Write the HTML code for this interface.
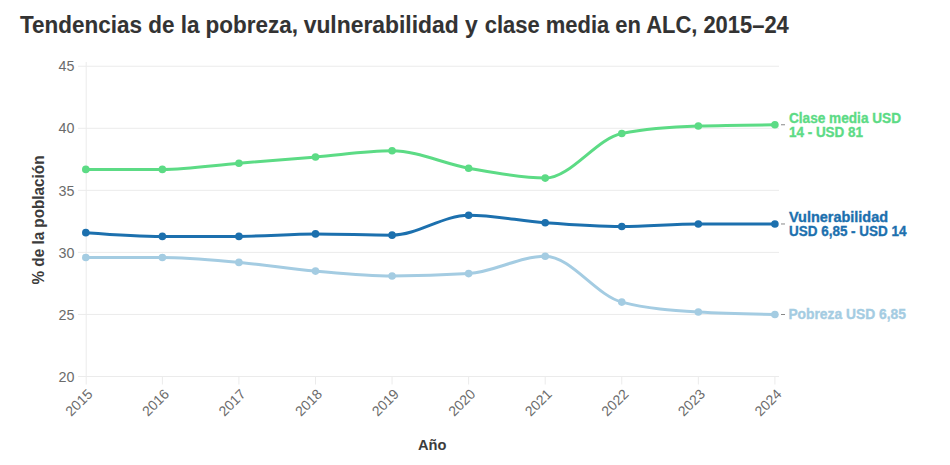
<!DOCTYPE html>
<html><head><meta charset="utf-8"><style>
html,body{margin:0;padding:0;background:#fff;}
body{width:950px;height:465px;overflow:hidden;position:relative;}
svg{position:absolute;left:0;top:0;}
text{font-family:"Liberation Sans",sans-serif;}
.title{font-size:23px;font-weight:bold;fill:#333;stroke:#333;stroke-width:0.1px;}
.yl{font-size:14.3px;fill:#6b6b6b;}
.xl{font-size:14px;fill:#6b6b6b;}
.lab{font-size:14px;font-weight:bold;stroke-width:0.35px;}
.axt{font-weight:bold;fill:#3c3c3c;}
</style></head><body>
<svg width="950" height="465" viewBox="0 0 950 465">
<line x1="78" x2="779" y1="66.25" y2="66.25" stroke="#ebebeb" stroke-width="1"/>
<line x1="78" x2="779" y1="128.30" y2="128.30" stroke="#ebebeb" stroke-width="1"/>
<line x1="78" x2="779" y1="190.35" y2="190.35" stroke="#ebebeb" stroke-width="1"/>
<line x1="78" x2="779" y1="252.40" y2="252.40" stroke="#ebebeb" stroke-width="1"/>
<line x1="78" x2="779" y1="314.45" y2="314.45" stroke="#ebebeb" stroke-width="1"/>
<line x1="78" x2="779" y1="376.50" y2="376.50" stroke="#ebebeb" stroke-width="1"/>
<line x1="86.2" x2="86.2" y1="62" y2="384.5" stroke="#ebebeb" stroke-width="1"/>
<line x1="162.37" x2="162.37" y1="376.5" y2="384.5" stroke="#ebebeb" stroke-width="1"/>
<line x1="238.93" x2="238.93" y1="376.5" y2="384.5" stroke="#ebebeb" stroke-width="1"/>
<line x1="315.50" x2="315.50" y1="376.5" y2="384.5" stroke="#ebebeb" stroke-width="1"/>
<line x1="392.07" x2="392.07" y1="376.5" y2="384.5" stroke="#ebebeb" stroke-width="1"/>
<line x1="468.63" x2="468.63" y1="376.5" y2="384.5" stroke="#ebebeb" stroke-width="1"/>
<line x1="545.20" x2="545.20" y1="376.5" y2="384.5" stroke="#ebebeb" stroke-width="1"/>
<line x1="621.77" x2="621.77" y1="376.5" y2="384.5" stroke="#ebebeb" stroke-width="1"/>
<line x1="698.33" x2="698.33" y1="376.5" y2="384.5" stroke="#ebebeb" stroke-width="1"/>
<line x1="774.90" x2="774.90" y1="376.5" y2="384.5" stroke="#ebebeb" stroke-width="1"/>
<text x="74.5" y="71.30" text-anchor="end" class="yl">45</text>
<text x="74.5" y="133.40" text-anchor="end" class="yl">40</text>
<text x="74.5" y="195.50" text-anchor="end" class="yl">35</text>
<text x="74.5" y="257.60" text-anchor="end" class="yl">30</text>
<text x="74.5" y="319.70" text-anchor="end" class="yl">25</text>
<text x="74.5" y="381.80" text-anchor="end" class="yl">20</text>
<text transform="translate(93.4,395) rotate(-45)" text-anchor="end" class="xl">2015</text>
<text transform="translate(170.0,395) rotate(-45)" text-anchor="end" class="xl">2016</text>
<text transform="translate(246.5,395) rotate(-45)" text-anchor="end" class="xl">2017</text>
<text transform="translate(323.1,395) rotate(-45)" text-anchor="end" class="xl">2018</text>
<text transform="translate(399.7,395) rotate(-45)" text-anchor="end" class="xl">2019</text>
<text transform="translate(476.2,395) rotate(-45)" text-anchor="end" class="xl">2020</text>
<text transform="translate(552.8,395) rotate(-45)" text-anchor="end" class="xl">2021</text>
<text transform="translate(629.4,395) rotate(-45)" text-anchor="end" class="xl">2022</text>
<text transform="translate(705.9,395) rotate(-45)" text-anchor="end" class="xl">2023</text>
<text transform="translate(782.5,395) rotate(-45)" text-anchor="end" class="xl">2024</text>
<path d="M85.80,169.42C111.32,169.42,136.84,169.42,162.37,169.42C187.89,169.42,213.41,165.29,238.93,163.22C264.46,161.15,289.98,159.09,315.50,157.02C341.02,154.95,366.54,150.82,392.07,150.82C417.59,150.82,443.11,163.63,468.63,168.18C494.16,172.73,519.68,178.10,545.20,178.10C570.72,178.10,596.24,138.42,621.77,133.46C647.29,128.50,672.81,126.85,698.33,126.02C723.86,125.19,749.38,124.99,774.90,124.78" fill="none" stroke="#5cdb85" stroke-width="3" stroke-linecap="round" stroke-linejoin="round"/>
<circle cx="85.80" cy="169.42" r="3.8" fill="#5cdb85"/>
<circle cx="162.37" cy="169.42" r="3.8" fill="#5cdb85"/>
<circle cx="238.93" cy="163.22" r="3.8" fill="#5cdb85"/>
<circle cx="315.50" cy="157.02" r="3.8" fill="#5cdb85"/>
<circle cx="392.07" cy="150.82" r="3.8" fill="#5cdb85"/>
<circle cx="468.63" cy="168.18" r="3.8" fill="#5cdb85"/>
<circle cx="545.20" cy="178.10" r="3.8" fill="#5cdb85"/>
<circle cx="621.77" cy="133.46" r="3.8" fill="#5cdb85"/>
<circle cx="698.33" cy="126.02" r="3.8" fill="#5cdb85"/>
<circle cx="774.90" cy="124.78" r="3.8" fill="#5cdb85"/>
<path d="M85.80,232.66C111.32,234.52,136.84,236.38,162.37,236.38C187.89,236.38,213.41,236.38,238.93,236.38C264.46,236.38,289.98,233.90,315.50,233.90C341.02,233.90,366.54,235.14,392.07,235.14C417.59,235.14,443.11,215.30,468.63,215.30C494.16,215.30,519.68,220.88,545.20,222.74C570.72,224.60,596.24,226.46,621.77,226.46C647.29,226.46,672.81,223.98,698.33,223.98C723.86,223.98,749.38,223.98,774.90,223.98" fill="none" stroke="#1c70ae" stroke-width="3" stroke-linecap="round" stroke-linejoin="round"/>
<circle cx="85.80" cy="232.66" r="3.8" fill="#1c70ae"/>
<circle cx="162.37" cy="236.38" r="3.8" fill="#1c70ae"/>
<circle cx="238.93" cy="236.38" r="3.8" fill="#1c70ae"/>
<circle cx="315.50" cy="233.90" r="3.8" fill="#1c70ae"/>
<circle cx="392.07" cy="235.14" r="3.8" fill="#1c70ae"/>
<circle cx="468.63" cy="215.30" r="3.8" fill="#1c70ae"/>
<circle cx="545.20" cy="222.74" r="3.8" fill="#1c70ae"/>
<circle cx="621.77" cy="226.46" r="3.8" fill="#1c70ae"/>
<circle cx="698.33" cy="223.98" r="3.8" fill="#1c70ae"/>
<circle cx="774.90" cy="223.98" r="3.8" fill="#1c70ae"/>
<path d="M85.80,257.46C111.32,257.46,136.84,257.46,162.37,257.46C187.89,257.46,213.41,260.15,238.93,262.42C264.46,264.69,289.98,268.83,315.50,271.10C341.02,273.37,366.54,276.06,392.07,276.06C417.59,276.06,443.11,275.23,468.63,273.58C494.16,271.93,519.68,256.22,545.20,256.22C570.72,256.22,596.24,295.49,621.77,302.10C647.29,308.71,672.81,310.37,698.33,312.02C723.86,313.67,749.38,314.09,774.90,314.50" fill="none" stroke="#a4cce2" stroke-width="3" stroke-linecap="round" stroke-linejoin="round"/>
<circle cx="85.80" cy="257.46" r="3.8" fill="#a4cce2"/>
<circle cx="162.37" cy="257.46" r="3.8" fill="#a4cce2"/>
<circle cx="238.93" cy="262.42" r="3.8" fill="#a4cce2"/>
<circle cx="315.50" cy="271.10" r="3.8" fill="#a4cce2"/>
<circle cx="392.07" cy="276.06" r="3.8" fill="#a4cce2"/>
<circle cx="468.63" cy="273.58" r="3.8" fill="#a4cce2"/>
<circle cx="545.20" cy="256.22" r="3.8" fill="#a4cce2"/>
<circle cx="621.77" cy="302.10" r="3.8" fill="#a4cce2"/>
<circle cx="698.33" cy="312.02" r="3.8" fill="#a4cce2"/>
<circle cx="774.90" cy="314.50" r="3.8" fill="#a4cce2"/>
<line x1="781" x2="785" y1="124.78" y2="124.78" stroke="#888" stroke-width="1"/>
<line x1="781" x2="785" y1="223.98" y2="223.98" stroke="#888" stroke-width="1"/>
<line x1="781" x2="785" y1="314.50" y2="314.50" stroke="#888" stroke-width="1"/>
<text x="20.00" y="32.9" class="title" textLength="278.00" lengthAdjust="spacingAndGlyphs">Tendencias de la pobreza,</text>
<text x="303.70" y="32.9" class="title" textLength="174.00" lengthAdjust="spacingAndGlyphs">vulnerabilidad y</text>
<text x="484.80" y="32.9" class="title" textLength="304.00" lengthAdjust="spacingAndGlyphs">clase media en ALC, 2015–24</text>
<text class="axt" font-size="16.5" transform="translate(43.9,220) rotate(-90)" text-anchor="middle" textLength="129" lengthAdjust="spacingAndGlyphs">% de la población</text>
<text class="axt" font-size="15.5" x="432.2" y="449.6" text-anchor="middle" textLength="28.5" lengthAdjust="spacingAndGlyphs">Año</text>
<text class="lab" x="789.0" y="122.7" fill="#5cdb85" stroke="#5cdb85" textLength="112.0" lengthAdjust="spacingAndGlyphs">Clase media USD</text>
<text class="lab" x="789.0" y="136.7" fill="#5cdb85" stroke="#5cdb85" textLength="74.0" lengthAdjust="spacingAndGlyphs">14 - USD 81</text>
<text class="lab" x="789.0" y="222.1" fill="#1c70ae" stroke="#1c70ae" textLength="99.0" lengthAdjust="spacingAndGlyphs">Vulnerabilidad</text>
<text class="lab" x="789.0" y="236.0" fill="#1c70ae" stroke="#1c70ae" textLength="117.5" lengthAdjust="spacingAndGlyphs">USD 6,85 - USD 14</text>
<text class="lab" x="788.4" y="318.9" fill="#a4cce2" stroke="#a4cce2" textLength="117.5" lengthAdjust="spacingAndGlyphs">Pobreza USD 6,85</text>
</svg>
</body></html>
